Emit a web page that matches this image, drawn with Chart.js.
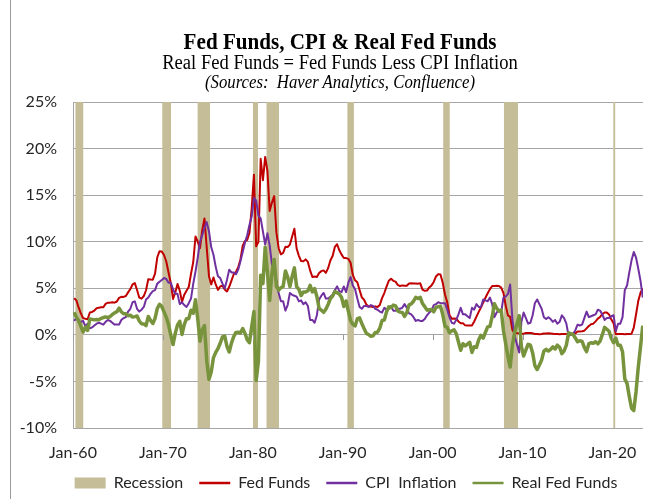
<!DOCTYPE html>
<html>
<head>
<meta charset="utf-8">
<script src="https://cdn.jsdelivr.net/npm/chart.js@4.4.0/dist/chart.umd.min.js"></script>
<style>
  html, body { margin: 0; padding: 0; background: #fff; overflow: hidden; }
  #wrap { position: relative; width: 656px; height: 499px; overflow: hidden; }
  #frame { position: absolute; left: 10px; top: 0; width: 1px; height: 499px; background: #9a9a9a; }
  .t { position: absolute; left: 20px; width: 640px; text-align: center; color: #000; white-space: nowrap; line-height: 1; transform-origin: 50% 50%; }
  #title { top: 28px; font: bold 24px 'Liberation Serif', serif; transform: scaleX(0.88); }
  #sub { top: 51px; font: 20px 'Liberation Serif', serif; transform: scaleX(0.93); }
  #src { top: 72px; font: italic 18px 'Liberation Serif', serif; transform: scaleX(0.93); }
  canvas { position: absolute; left: 0; top: 0; }
</style>
</head>
<body>
<div id="wrap">
  <canvas id="chart" width="656" height="502"></canvas>
  <div id="frame"></div>
  <div class="t" id="title">Fed Funds, CPI &amp; Real Fed Funds</div>
  <div class="t" id="sub">Real Fed Funds = Fed Funds Less CPI Inflation</div>
  <div class="t" id="src">(Sources:&nbsp; Haver Analytics, Confluence)</div>
</div>
<script>
// quarterly values, 1960 Q1 .. 2023 Q2 (percent)
const firstYear = 1960;

const fedFunds = [
  3.93, 3.70, 2.94, 2.30,   1.80, 1.73, 1.68, 2.40,   2.46, 2.61, 2.85, 2.92,   2.97, 2.96, 3.33, 3.45,
  3.46, 3.49, 3.46, 3.58,   3.97, 4.08, 4.07, 4.17,   4.56, 4.91, 5.41, 5.56,   4.82, 3.99, 3.89, 4.17,
  4.79, 5.98, 5.94, 5.92,   6.57, 8.33, 8.98, 8.94,   8.57, 7.88, 6.70, 5.57,   3.86, 4.56, 5.47, 4.75,
  3.54, 4.30, 4.74, 5.14,   6.54, 7.82, 10.56, 10.00, 9.32, 11.25, 12.50, 9.35, 6.30, 5.42, 6.16, 5.41,
  4.83, 5.20, 5.28, 4.87,   4.66, 5.16, 5.82, 6.51,   6.76, 7.28, 8.10, 9.58,   10.07, 10.18, 10.95, 13.58,
  17.20, 9.50, 10.00, 18.90, 16.60, 19.10, 17.60, 13.30, 14.20, 14.90, 11.00, 9.30, 8.65, 8.80, 9.46, 9.43,
  9.69, 10.56, 11.39, 9.27, 8.48, 7.92, 7.90, 8.10,   7.83, 6.92, 6.21, 6.27,   6.22, 6.65, 6.84, 6.92,
  6.66, 7.16, 7.98, 8.47,   9.44, 9.73, 9.08, 8.61,   8.25, 8.24, 8.16, 7.74,   6.43, 5.86, 5.64, 4.82,
  4.02, 3.77, 3.26, 3.04,   3.04, 3.00, 3.06, 2.99,   3.21, 3.94, 4.49, 5.17,   5.81, 6.02, 5.80, 5.72,
  5.36, 5.24, 5.31, 5.28,   5.28, 5.52, 5.53, 5.51,   5.52, 5.50, 5.53, 4.86,   4.73, 4.75, 5.09, 5.31,
  5.68, 6.27, 6.52, 6.47,   5.59, 4.33, 3.50, 2.13,   1.73, 1.75, 1.74, 1.44,   1.25, 1.25, 1.02, 1.00,
  1.00, 1.01, 1.43, 1.95,   2.47, 2.94, 3.46, 3.98,   4.46, 4.91, 5.25, 5.25,   5.26, 5.25, 5.07, 4.50,
  3.18, 2.09, 1.94, 0.51,   0.18, 0.18, 0.16, 0.12,   0.13, 0.19, 0.19, 0.19,   0.16, 0.09, 0.08, 0.07,
  0.10, 0.15, 0.14, 0.16,   0.14, 0.12, 0.08, 0.09,   0.07, 0.09, 0.09, 0.10,   0.11, 0.12, 0.13, 0.16,
  0.36, 0.37, 0.39, 0.45,   0.70, 0.95, 1.15, 1.20,   1.45, 1.74, 1.92, 2.22,   2.40, 2.40, 2.19, 1.64,
  1.26, 0.06, 0.09, 0.09,   0.08, 0.07, 0.09, 0.08,   0.12, 0.77, 2.19, 3.65,   4.52, 4.99
];

const cpiInflation = [
  1.5, 1.8, 1.4, 1.4,   1.5, 0.9, 1.2, 0.7,   0.8, 1.0, 1.2, 1.3,   1.2, 1.1, 1.4, 1.6,
  1.5, 1.3, 1.1, 1.1,   1.1, 1.6, 1.8, 1.9,   2.5, 2.8, 3.5, 3.6,   2.8, 2.5, 2.7, 3.0,
  3.8, 4.0, 4.4, 4.7,   4.8, 5.5, 5.7, 5.9,   6.1, 6.0, 5.6, 5.6,   4.9, 4.4, 4.4, 3.3,
  3.5, 3.2, 3.0, 3.4,   3.9, 5.5, 6.8, 8.3,   10.0, 10.7, 11.5, 12.1, 11.1, 9.4, 8.6, 7.3,
  6.3, 6.1, 5.5, 5.0,   5.9, 7.0, 6.7, 6.7,   6.5, 7.0, 7.9, 8.9,   9.9, 10.7, 11.8, 12.7,
  14.7, 14.4, 12.8, 12.5, 11.1, 9.7, 10.9, 9.6, 7.6, 6.8, 5.8, 4.5,  3.6, 3.6, 2.6, 3.2,
  4.5, 4.3, 4.2, 4.1,   3.6, 3.7, 3.3, 3.5,   3.1, 1.6, 1.6, 1.3,   2.1, 3.8, 4.2, 4.5,
  3.9, 3.9, 4.1, 4.3,   4.8, 5.2, 4.7, 4.6,   5.2, 4.6, 5.6, 6.2,   5.3, 4.9, 3.9, 3.0,
  2.8, 3.1, 3.1, 3.0,   3.2, 3.1, 2.8, 2.7,   2.5, 2.4, 2.9, 2.7,   2.8, 3.1, 2.6, 2.6,
  2.8, 2.8, 2.9, 3.3,   2.9, 2.3, 2.2, 1.9,   1.5, 1.6, 1.5, 1.5,   1.7, 2.1, 2.4, 2.6,
  3.2, 3.3, 3.5, 3.4,   3.4, 3.4, 2.7, 1.9,   1.3, 1.2, 1.6, 2.2,   2.9, 2.2, 2.2, 2.0,
  1.8, 2.9, 2.7, 3.3,   3.0, 3.0, 3.8, 3.7,   3.6, 4.0, 3.3, 1.9,   2.4, 2.7, 2.4, 4.0,
  4.1, 4.4, 5.4, 1.6,   -0.1, -1.0, -1.9, 1.4, 2.4, 1.8, 1.2, 1.3,  2.1, 3.4, 3.8, 3.3,
  2.8, 1.9, 1.7, 1.9,   1.7, 1.4, 1.6, 1.2,   1.4, 2.1, 1.8, 1.2,   -0.1, 0.0, 0.1, 0.5,
  1.1, 1.0, 1.1, 1.8,   2.5, 1.9, 2.0, 2.1,   2.2, 2.7, 2.6, 2.2,   1.6, 1.8, 1.8, 2.0,
  2.1, 0.4, 1.2, 1.2,   1.9, 4.8, 5.3, 6.7,   8.0, 8.9, 8.3, 7.1,   5.8, 4.0
];

const realFedFunds = [
  2.43, 1.90, 1.54, 0.90,   0.30, 0.83, 0.48, 1.70,   1.66, 1.61, 1.65, 1.62,   1.77, 1.86, 1.93, 1.85,
  1.96, 2.19, 2.36, 2.48,   2.87, 2.48, 2.27, 2.27,   2.06, 2.11, 1.91, 1.96,   2.02, 1.49, 1.19, 1.17,
  0.99, 1.98, 1.54, 1.22,   1.77, 2.83, 3.28, 3.04,   2.47, 1.88, 1.10, -0.03,  -1.04, 0.16, 1.07, 1.45,
  0.04, 1.10, 1.74, 1.74,   2.64, 2.32, 3.76, 1.70,   -0.68, 0.55, 1.00, -2.75, -4.80, -3.98, -2.44, -1.89,
  -1.47, -0.90, -0.22, -0.13, -1.24, -1.84, -0.88, -0.19, 0.26, 0.28, 0.20, 0.68, 0.17, -0.52, -0.85, 0.88,
  2.50, -4.90, -2.80, 6.40, 5.50, 9.40, 6.70, 3.70,   6.60, 8.10, 5.20, 4.80,   5.05, 5.20, 6.86, 6.23,
  5.19, 6.26, 7.19, 5.17,   4.88, 4.22, 4.60, 4.60,   4.73, 5.32, 4.61, 4.97,   4.12, 2.85, 2.64, 2.42,
  2.76, 3.26, 3.88, 4.17,   4.64, 4.53, 4.38, 4.01,   3.05, 3.64, 2.56, 1.54,   1.13, 0.96, 1.74, 1.82,
  1.22, 0.67, 0.16, 0.04,   -0.16, -0.10, 0.26, 0.29, 0.71, 1.54, 1.59, 2.47,   3.01, 2.92, 3.20, 3.12,
  2.56, 2.44, 2.41, 1.98,   2.38, 3.22, 3.33, 3.61,   4.02, 3.90, 4.03, 3.36,   3.03, 2.65, 2.69, 2.71,
  2.48, 2.97, 3.02, 3.07,   2.19, 0.93, 0.80, 0.23,   0.43, 0.55, 0.14, -0.76,  -1.65, -0.95, -1.18, -1.00,
  -0.80, -1.89, -1.27, -1.35, -0.53, -0.06, -0.34, 0.28, 0.86, 0.91, 1.95, 3.35, 2.86, 2.55, 2.67, 0.50,
  -0.92, -2.31, -3.46, -1.09, 0.28, 1.18, 2.06, -1.28, -2.27, -1.61, -1.01, -1.11, -1.94, -3.31, -3.72, -3.23,
  -2.70, -1.75, -1.56, -1.74, -1.56, -1.28, -1.52, -1.11, -1.33, -2.01, -1.71, -1.10, 0.21, 0.12, 0.03, -0.34,
  -0.74, -0.63, -0.71, -1.35, -1.80, -0.95, -0.85, -0.90, -0.75, -0.96, -0.68, 0.02, 0.80, 0.60, 0.39, -0.36,
  -0.84, -0.34, -1.11, -1.11, -1.82, -4.73, -5.21, -6.62, -7.88, -8.13, -6.11, -3.45, -1.28, 0.99
];

// NBER recessions, decimal years (start of peak month .. end of trough month)
const recessionStart = [1960.25, 1969.917, 1973.833, 1980.0, 1981.5, 1990.5, 2001.167, 2007.917, 2020.083];
const recessionEnd   = [1961.167, 1970.917, 1975.25, 1980.583, 1982.917, 1991.25, 2001.917, 2009.5, 2020.333];

const xTickYears  = [1960, 1970, 1980, 1990, 2000, 2010, 2020];
const xTickLabels = ['Jan-60', 'Jan-70', 'Jan-80', 'Jan-90', 'Jan-00', 'Jan-10', 'Jan-20'];
const seriesLabels = ['Recession', 'Fed Funds', 'CPI  Inflation', 'Real Fed Funds'];

const FONT = 'Lato, "Liberation Sans", sans-serif';
const TXT = '#262626';

// convierte una serie trimestral en puntos {x, y}
function toPoints(values) {
  return values.map((v, i) => ({ x: firstYear + i / 4 + 0.125, y: v }));
}

// bandas de recesión: tramos a 25% con un hueco entre cada uno, rellenos hasta -10%
const recessionPoints = [];
recessionStart.forEach((s, i) => {
  recessionPoints.push({ x: s, y: 25 }, { x: recessionEnd[i], y: 25 }, { x: recessionEnd[i] + 0.001, y: null });
});

// pequeñas marcas de década sobre la línea de 0%
const zeroTicks = {
  id: 'zeroTicks',
  afterDatasetsDraw(chart) {
    const { ctx, scales: { x, y } } = chart;
    const y0 = Math.round(y.getPixelForValue(0));
    ctx.save();
    ctx.strokeStyle = '#9a9a9a';
    ctx.lineWidth = 1;
    xTickYears.forEach(v => {
      const px = Math.round(x.getPixelForValue(v)) + 0.5;
      ctx.beginPath();
      ctx.moveTo(px, y0);
      ctx.lineTo(px, y0 + 5);
      ctx.stroke();
    });
    ctx.restore();
  }
};

// la leyenda va centrada un poco a la derecha, como en el original
const legendShift = {
  id: 'legendShift',
  beforeDraw(chart) {
    if (chart.legend) chart.legend.left = 49;
  }
};

new Chart(document.getElementById('chart'), {
  type: 'line',
  data: {
    datasets: [
      {
        label: seriesLabels[0], data: recessionPoints, order: 4,
        borderWidth: 0, borderColor: '#c4bd97', backgroundColor: '#c4bd97',
        fill: { value: -10 }, pointRadius: 0, spanGaps: false
      },
      {
        label: seriesLabels[1], data: toPoints(fedFunds), order: 3,
        borderColor: '#c00000', backgroundColor: '#c00000', borderWidth: 2, pointRadius: 0
      },
      {
        label: seriesLabels[2], data: toPoints(cpiInflation), order: 2,
        borderColor: '#7030a0', backgroundColor: '#7030a0', borderWidth: 2, pointRadius: 0
      },
      {
        label: seriesLabels[3], data: toPoints(realFedFunds), order: 1,
        borderColor: '#77933c', backgroundColor: '#77933c', borderWidth: 3.5, pointRadius: 0
      }
    ]
  },
  options: {
    responsive: false,
    animation: false,
    devicePixelRatio: 1,
    events: [],
    layout: { padding: { top: 102, right: 13, bottom: 1, left: 0 } },
    elements: { line: { tension: 0, borderJoinStyle: 'round' } },
    plugins: {
      tooltip: { enabled: false },
      legend: {
        position: 'bottom',
        labels: {
          usePointStyle: true, pointStyleWidth: 31, boxHeight: 11, padding: 16,
          color: TXT, font: { family: FONT, size: 16 },
          sort: (a, b) => a.datasetIndex - b.datasetIndex,
          generateLabels: chart => chart.data.datasets.map((ds, i) => ({
            text: ds.label,
            datasetIndex: i,
            fillStyle: ds.backgroundColor,
            strokeStyle: ds.borderColor,
            lineWidth: i === 0 ? 0 : 2.5,
            pointStyle: i === 0 ? 'rect' : 'line',
            fontColor: TXT,
            hidden: false
          }))
        }
      }
    },
    scales: {
      x: {
        type: 'linear', min: 1960, max: 2023.4,
        afterBuildTicks: s => { s.ticks = xTickYears.map(v => ({ value: v })); },
        afterFit: s => { s.height = 31; },
        ticks: {
          autoSkip: false, maxRotation: 0, padding: 7,
          color: TXT, font: { family: FONT, size: 16 },
          callback: (v, i) => xTickLabels[i]
        },
        grid: { display: false },
        border: { display: false }
      },
      y: {
        min: -10, max: 25,
        afterFit: s => { s.width = 73; },
        ticks: {
          stepSize: 5, padding: 16,
          color: TXT, font: { family: FONT, size: 16 },
          callback: v => v + '%'
        },
        grid: { color: '#a6a6a6', lineWidth: 1, drawTicks: false },
        border: { color: '#a6a6a6' }
      }
    }
  },
  plugins: [zeroTicks, legendShift]
});
</script>
</body>
</html>
